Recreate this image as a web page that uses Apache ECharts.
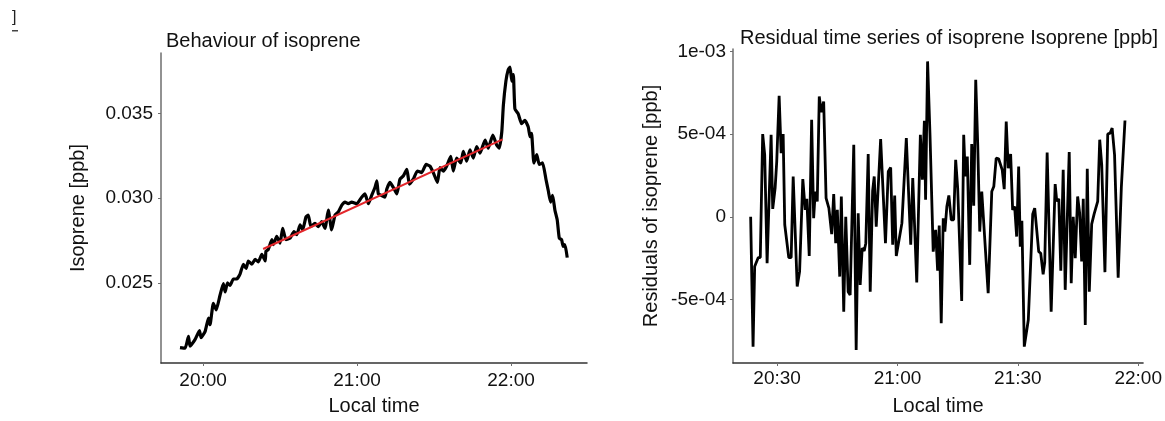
<!DOCTYPE html>
<html>
<head>
<meta charset="utf-8">
<script src="https://cdn.jsdelivr.net/npm/echarts@6/dist/echarts.min.js"></script>
<style>
html,body{margin:0;padding:0;background:#fff;}
#chart{width:1165px;height:421px;}
</style>
</head>
<body>
<div id="chart"></div>
<script>
// ---- Data (times are minutes after midnight, local time) ----
const isoTime = [1191.0,1193.0,1194.3,1194.9,1196.9,1198.6,1199.2,1200.8,1202.1,1202.7,1204.0,1205.1,1206.6,1207.9,1208.6,1209.5,1210.5,1211.8,1213.1,1214.4,1215.7,1216.8,1217.6,1219.0,1220.3,1221.5,1222.9,1224.2,1224.5,1225.4,1226.8,1227.4,1228.7,1230.0,1231.0,1232.3,1233.9,1235.4,1236.5,1237.8,1238.8,1240.1,1241.0,1242.0,1243.6,1244.9,1246.2,1247.5,1248.8,1250.1,1251.4,1252.7,1254.0,1255.3,1256.6,1257.9,1259.9,1261.8,1263.1,1264.4,1265.7,1267.0,1267.7,1268.3,1269.6,1270.9,1271.6,1272.8,1274.1,1275.5,1276.7,1278.0,1279.4,1280.4,1281.9,1283.5,1285.2,1286.9,1288.4,1289.7,1291.3,1292.3,1293.6,1294.9,1296.5,1297.5,1298.8,1300.4,1301.4,1302.7,1304.0,1305.3,1306.6,1307.9,1309.9,1311.1,1312.9,1314.4,1315.4,1316.4,1317.0,1318.0,1318.9,1319.6,1320.3,1320.9,1321.5,1322.8,1324.1,1325.4,1326.7,1327.4,1328.0,1328.9,1330.0,1331.0,1332.3,1333.6,1334.5,1335.4,1336.2,1337.1,1338.0,1338.8,1339.7,1340.3,1341.0,1341.9];
const isoValue = [0.02118,0.02114,0.02185,0.02127,0.02166,0.02218,0.02176,0.02214,0.02292,0.02253,0.02379,0.02340,0.02427,0.02495,0.02446,0.02500,0.02485,0.02523,0.02523,0.02552,0.02610,0.02585,0.02629,0.02610,0.02639,0.02624,0.02668,0.02629,0.02687,0.02697,0.02755,0.02726,0.02774,0.02735,0.02822,0.02755,0.02764,0.02803,0.02784,0.02842,0.02813,0.02890,0.02900,0.02832,0.02851,0.02832,0.02861,0.02822,0.02929,0.02813,0.02900,0.02919,0.02958,0.02977,0.02967,0.02977,0.02967,0.03006,0.03025,0.02967,0.03016,0.03064,0.03103,0.03025,0.03016,0.03006,0.03054,0.03093,0.03064,0.03025,0.03112,0.03131,0.03170,0.03083,0.03112,0.03160,0.03151,0.03199,0.03189,0.03151,0.03093,0.03180,0.03160,0.03189,0.03247,0.03160,0.03237,0.03208,0.03276,0.03218,0.03285,0.03237,0.03305,0.03266,0.03343,0.03295,0.03372,0.03314,0.03295,0.03392,0.03546,0.03691,0.03759,0.03774,0.03691,0.03730,0.03527,0.03498,0.03440,0.03459,0.03421,0.03363,0.03382,0.03208,0.03257,0.03199,0.03208,0.03112,0.03045,0.02977,0.03016,0.02929,0.02871,0.02764,0.02755,0.02716,0.02726,0.02649];

const fitTime = [1223.4, 1316.7];
const fitValue = [0.02700, 0.03347];

const resTime = [1223.4,1224.0,1224.4,1224.8,1225.3,1225.8,1226.4,1226.9,1227.5,1228.5,1228.9,1229.5,1229.9,1230.5,1231.0,1231.5,1231.9,1232.9,1233.5,1234.0,1235.0,1235.6,1236.4,1237.0,1237.4,1238.0,1238.6,1239.1,1239.5,1240.0,1240.5,1241.0,1241.6,1242.2,1242.9,1243.6,1244.1,1244.6,1245.0,1245.6,1246.0,1246.6,1247.1,1247.7,1248.2,1249.1,1249.7,1250.2,1250.7,1251.2,1251.7,1252.1,1252.7,1253.2,1253.8,1254.2,1254.7,1255.8,1257.0,1257.7,1258.3,1258.8,1259.3,1259.7,1261.1,1262.2,1263.3,1263.8,1264.8,1265.7,1266.2,1266.7,1267.0,1267.5,1268.1,1268.9,1269.5,1270.0,1270.4,1270.9,1271.4,1271.8,1272.3,1272.8,1273.4,1274.0,1274.5,1275.0,1276.0,1276.5,1276.9,1277.4,1278.0,1278.5,1279.0,1279.5,1280.0,1280.5,1281.0,1282.6,1283.5,1284.0,1284.6,1285.2,1286.1,1286.6,1287.1,1287.6,1288.2,1288.7,1289.2,1289.7,1290.2,1290.6,1291.0,1291.6,1292.6,1293.7,1294.2,1295.2,1295.7,1296.3,1296.7,1297.3,1298.3,1299.3,1299.7,1300.2,1300.7,1301.3,1301.8,1302.8,1303.3,1303.8,1304.3,1304.9,1305.4,1305.9,1306.3,1306.8,1307.3,1307.8,1308.4,1309.0,1309.9,1310.4,1310.9,1311.7,1312.4,1313.0,1313.5,1314.1,1315.0,1315.8,1316.7];
const resValue = [0,-7.84e-4,-3.0e-4,-2.9e-4,-2.46e-4,-2.46e-4,5.0e-4,3.75e-4,-2.8e-4,4.96e-4,4.8e-5,1.74e-4,3.34e-4,7.32e-4,3.85e-4,5.0e-4,-4.8e-5,-2.46e-4,-2.46e-4,2.44e-4,-4.21e-4,-3.31e-4,2.28e-4,4.2e-5,1.09e-4,-2.36e-4,5.86e-4,-8e-6,1.53e-4,9.3e-5,7.27e-4,6.33e-4,6.97e-4,1.13e-4,5.3e-5,-1.05e-4,1.37e-4,-1.59e-4,4.2e-5,-3.61e-4,1.23e-4,-5.73e-4,0,-4.52e-4,-4.72e-4,4.35e-4,-8.04e-4,2.2e-5,-4.11e-4,-1.89e-4,-2.06e-4,-1.59e-4,3.79e-4,-4.52e-4,1.57e-4,2.44e-4,-5.9e-5,4.70e-4,-1.59e-4,2.74e-4,2.98e-4,-1.69e-4,1.29e-4,-2.36e-4,-3.8e-5,4.76e-4,-1.69e-4,2.34e-4,-3.97e-4,4.96e-4,2.24e-4,5.80e-4,1.03e-4,9.39e-4,4.96e-4,-2.10e-4,-7.9e-5,-3.26e-4,-5.3e-5,-6.43e-4,-8e-6,-8.9e-5,6.2e-5,1.29e-4,-1.8e-5,-1.8e-5,3.45e-4,1.74e-4,-5.08e-4,4.96e-4,2.44e-4,3.65e-4,-2.9e-4,4.40e-4,6.7e-5,8.28e-4,4.35e-4,-8.9e-5,1.53e-4,-4.61e-4,1.53e-4,1.83e-4,3.55e-4,3.51e-4,2.84e-4,1.67e-4,5.76e-4,2.94e-4,3.79e-4,4.2e-5,6.2e-5,-1.19e-4,3.04e-4,-1.80e-4,-2.4e-5,-7.84e-4,-6.23e-4,1.6e-5,5.3e-5,-2.10e-4,-2.2e-4,-3.47e-4,-2.74e-4,3.89e-4,-5.73e-4,1.98e-4,9.3e-5,1.09e-4,-3.26e-4,2.84e-4,-4.41e-4,3.91e-4,-4.01e-4,0,-2.50e-4,1.23e-4,2.2e-5,-2.70e-4,1.09e-4,-6.53e-4,2.90e-4,-4.52e-4,-4.4e-5,1.6e-5,9.3e-5,4.66e-4,3.14e-4,-3.34e-4,5.0e-4,5.06e-4,5.36e-4,3.75e-4,-3.67e-4,1.83e-4,5.82e-4];

const leftXTicks = [1200, 1260, 1320];
const rightXTicks = [1230, 1260, 1290, 1320];
const leftYTicks = [0.025, 0.030, 0.035];
const leftYTickLabels = ['0.025', '0.030', '0.035'];
const rightYTicks = [-5e-4, 0, 5e-4, 1e-3];
const rightYTickLabels = ['-5e-04', '0', '5e-04', '1e-03'];

// ---- helpers ----
function hhmm(v) {
  const m = Math.round(v);
  const h = Math.floor(m / 60), mm = m % 60;
  return String(h).padStart(2, '0') + ':' + String(mm).padStart(2, '0');
}
function lookup(ticks, labels) {
  return function (v) {
    for (let i = 0; i < ticks.length; i++) {
      if (Math.abs(ticks[i] - v) < 1e-9) return labels[i];
    }
    return '';
  };
}
function zip(a, b) { return a.map((x, i) => [x, b[i]]); }

const FONT = 'Liberation Sans, Arial, sans-serif';
const axisGray = '#6e6e6e';

const chart = echarts.init(document.getElementById('chart'), null, {renderer: 'canvas'});

function xAxisCfg(gridIndex, min, max, ticks, nameGap, labelMargin) {
  return {
    type: 'value', gridIndex, min, max,
    name: 'Local time', nameLocation: 'middle', nameGap,
    nameTextStyle: {fontFamily: FONT, fontSize: 20, color: '#111'},
    axisLine: {show: true, onZero: false, lineStyle: {color: '#333', width: 1.5}},
    axisTick: {show: true, customValues: ticks, length: 3, lineStyle: {color: axisGray}},
    axisLabel: {customValues: ticks, formatter: hhmm, margin: labelMargin,
      fontFamily: FONT, fontSize: 19, color: '#111'},
    splitLine: {show: false}
  };
}
function yAxisCfg(gridIndex, min, max, ticks, labels, name, nameGap, labelMargin) {
  return {
    type: 'value', gridIndex, min, max,
    name, nameLocation: 'middle', nameGap, nameRotate: 90,
    nameTextStyle: {fontFamily: FONT, fontSize: 20, color: '#111'},
    axisLine: {show: true, onZero: false, lineStyle: {color: axisGray, width: 1.5}},
    axisTick: {show: true, customValues: ticks, length: 3, lineStyle: {color: axisGray}},
    axisLabel: {customValues: ticks, formatter: lookup(ticks, labels), margin: labelMargin,
      fontFamily: FONT, fontSize: 19, color: '#111'},
    splitLine: {show: false}
  };
}

const option = {
  backgroundColor: '#fff',
  animation: false,
  title: [
    {text: 'Behaviour of isoprene', left: 161, top: 26,
      textStyle: {fontFamily: FONT, fontSize: 20, fontWeight: 'normal', color: '#111'}},
    {text: 'Residual time series of isoprene Isoprene [ppb]', left: 735, top: 23,
      textStyle: {fontFamily: FONT, fontSize: 20, fontWeight: 'normal', color: '#111'}}
  ],
  graphic: [
    {type: 'text', left: 12, top: 10, style: {text: ']', font: '16px ' + FONT, fill: '#222'}},
    {type: 'rect', left: 12, top: 30, shape: {width: 6, height: 1.5}, style: {fill: '#444'}}
  ],
  grid: [
    {left: 161, right: 578, top: 53, bottom: 52},
    {left: 733, right: 15, top: 49, bottom: 58}
  ],
  xAxis: [
    xAxisCfg(0, 1183.6, 1349.6, leftXTicks, 33, 8),
    xAxisCfg(1, 1219.0, 1321.2, rightXTicks, 33, 6)
  ],
  yAxis: [
    yAxisCfg(0, 0.02027, 0.03857, leftYTicks, leftYTickLabels, 'Isoprene [ppb]', 73, 8),
    yAxisCfg(1, -8.83e-4, 1.014e-3, rightYTicks, rightYTickLabels, 'Residuals of isoprene [ppb]', 72, 7)
  ],
  series: [
    {type: 'line', xAxisIndex: 0, yAxisIndex: 0, data: zip(isoTime, isoValue),
      showSymbol: false, smooth: 0.15, lineStyle: {color: '#000', width: 3.2}, z: 2},
    {type: 'line', xAxisIndex: 0, yAxisIndex: 0, data: zip(fitTime, fitValue),
      showSymbol: false, lineStyle: {color: '#e3262b', width: 2}, z: 3},
    {type: 'line', xAxisIndex: 1, yAxisIndex: 1, data: zip(resTime, resValue),
      showSymbol: false, lineStyle: {color: '#000', width: 2.8}, z: 2}
  ]
};
chart.setOption(option);
</script>
</body>
</html>
